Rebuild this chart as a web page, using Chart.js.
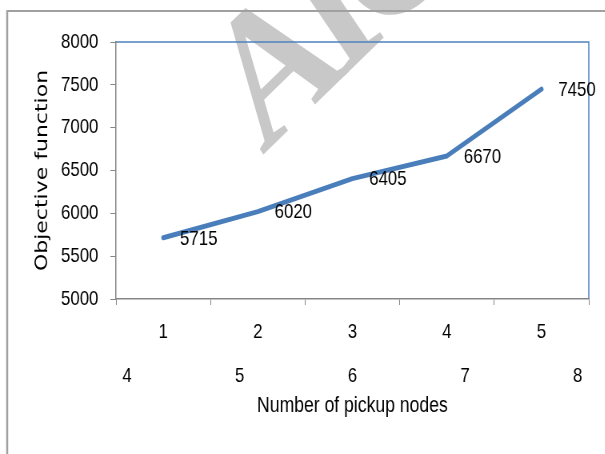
<!DOCTYPE html>
<html>
<head>
<meta charset="utf-8">
<script src="https://cdn.jsdelivr.net/npm/chart.js@4/dist/chart.umd.min.js"></script>
<style>
  html, body { margin: 0; padding: 0; background: #ffffff; overflow: hidden; }
  #page { width: 605px; height: 454px; overflow: hidden; position: relative; }
  /* chart is laid out wide and squeezed horizontally, giving the narrow lettering */
  #wrap { width: 756px; height: 454px; transform: scaleX(0.8); transform-origin: 0 0; }
</style>
</head>
<body>
<div id="page"><div id="wrap"><canvas id="objectiveChart"></canvas></div></div>
<script>
// pickup-node scenarios and their objective values
const categories = ['1', '2', '3', '4', '5'];
const objectiveValues = [5715, 6020, 6405, 6670, 7450];
const nodeCounts = [4, 5, 6, 7, 8];
const yMin = 5000;
const yMax = 8000;
const yStep = 500;

const SQUEEZE = 0.8;
const LABEL_FONT = '"Liberation Sans", Arial, sans-serif';
const LINE_BLUE = '#4a7ebb';
const AXIS_GREY = '#868686';

// faint rotated watermark behind everything (drawn unsqueezed)
const watermark = {
    id: 'watermark',
    beforeDraw(chart) {
        const ctx = chart.ctx;
        ctx.save();
        ctx.scale(1 / SQUEEZE, 1);
        ctx.fillStyle = '#c8c8c8';
        ctx.font = 'italic bold 178px "Liberation Serif", serif';
        ctx.letterSpacing = '-14px';
        ctx.textBaseline = 'alphabetic';
        ctx.translate(270, 148);
        ctx.rotate(-0.77);
        ctx.fillText('AIC', 0, 0);
        ctx.restore();
    }
};

// page frame lines plus blue top/right edges of the plot area
const frame = {
    id: 'frame',
    beforeDatasetsDraw(chart) {
        const ctx = chart.ctx;
        const { left, top, right, bottom } = chart.chartArea;
        ctx.save();
        ctx.strokeStyle = '#a0a0a0';
        ctx.lineWidth = 2.5;
        ctx.beginPath();
        ctx.moveTo(9, chart.height);
        ctx.lineTo(9, 11);
        ctx.stroke();
        ctx.lineWidth = 2;
        ctx.beginPath();
        ctx.moveTo(8, 11);
        ctx.lineTo(chart.width, 11);
        ctx.stroke();

        ctx.strokeStyle = '#4f81bd';
        ctx.lineWidth = 1.5;
        ctx.beginPath();
        ctx.moveTo(left, top);
        ctx.lineTo(right, top);
        ctx.lineTo(right, bottom);
        ctx.stroke();
        ctx.restore();
    }
};

// value labels to the right of each point
const valueLabels = {
    id: 'valueLabels',
    afterDatasetsDraw(chart) {
        const ctx = chart.ctx;
        const meta = chart.getDatasetMeta(0);
        ctx.save();
        ctx.fillStyle = '#000000';
        ctx.font = '21px ' + LABEL_FONT;
        ctx.textAlign = 'left';
        ctx.textBaseline = 'middle';
        meta.data.forEach((pt, i) => {
            ctx.fillText(String(objectiveValues[i]), pt.x + 21, pt.y + 1);
        });
        ctx.restore();
    }
};

const ctx = document.getElementById('objectiveChart').getContext('2d');
new Chart(ctx, {
    type: 'line',
    data: {
        labels: categories,
        datasets: [{
            data: objectiveValues,
            borderColor: LINE_BLUE,
            borderWidth: 5,
            borderCapStyle: 'round',
            borderJoinStyle: 'round',
            pointRadius: 0,
            tension: 0,
            fill: false
        }]
    },
    options: {
        responsive: true,
        maintainAspectRatio: false,
        animation: false,
        layout: { padding: { left: 0, top: 42, right: 20, bottom: 34 } },
        plugins: {
            legend: { display: false },
            tooltip: { enabled: false }
        },
        scales: {
            y: {
                min: yMin,
                max: yMax,
                afterFit(scale) { scale.width = 145; },
                ticks: {
                    stepSize: yStep,
                    color: '#000000',
                    padding: 15,
                    callback: v => String(v),
                    font: { family: LABEL_FONT, size: 21 }
                },
                grid: {
                    drawOnChartArea: false,
                    drawTicks: true,
                    tickLength: 7,
                    color: AXIS_GREY
                },
                border: { color: AXIS_GREY, width: 1.5 },
                title: {
                    display: true,
                    text: 'Objective function',
                    color: '#000000',
                    padding: { top: 40, bottom: 0 },
                    font: { family: '"DejaVu Sans", sans-serif', size: 22 }
                }
            },
            x: {
                offset: true,
                afterFit(scale) { scale.height = 56; },
                ticks: {
                    color: '#000000',
                    padding: 15,
                    maxRotation: 0,
                    font: { family: LABEL_FONT, size: 21 }
                },
                grid: {
                    offset: true,
                    drawOnChartArea: false,
                    drawTicks: true,
                    tickLength: 6,
                    color: AXIS_GREY
                },
                border: { color: AXIS_GREY, width: 1.5 }
            },
            nodes: {
                type: 'linear',
                position: 'bottom',
                min: 3.902,
                max: 8.098,
                afterFit(scale) { scale.height = 65; },
                afterBuildTicks(scale) {
                    scale.ticks = nodeCounts.map(v => ({ value: v }));
                },
                ticks: {
                    color: '#000000',
                    padding: 9,
                    maxRotation: 0,
                    autoSkip: false,
                    font: { family: LABEL_FONT, size: 21 }
                },
                grid: { display: false, drawTicks: false },
                border: { display: false },
                title: {
                    display: true,
                    text: 'Number of pickup nodes',
                    color: '#000000',
                    padding: { top: 0, bottom: 1 },
                    font: { family: LABEL_FONT, size: 22 }
                }
            }
        }
    },
    plugins: [watermark, frame, valueLabels]
});
</script>
</body>
</html>
